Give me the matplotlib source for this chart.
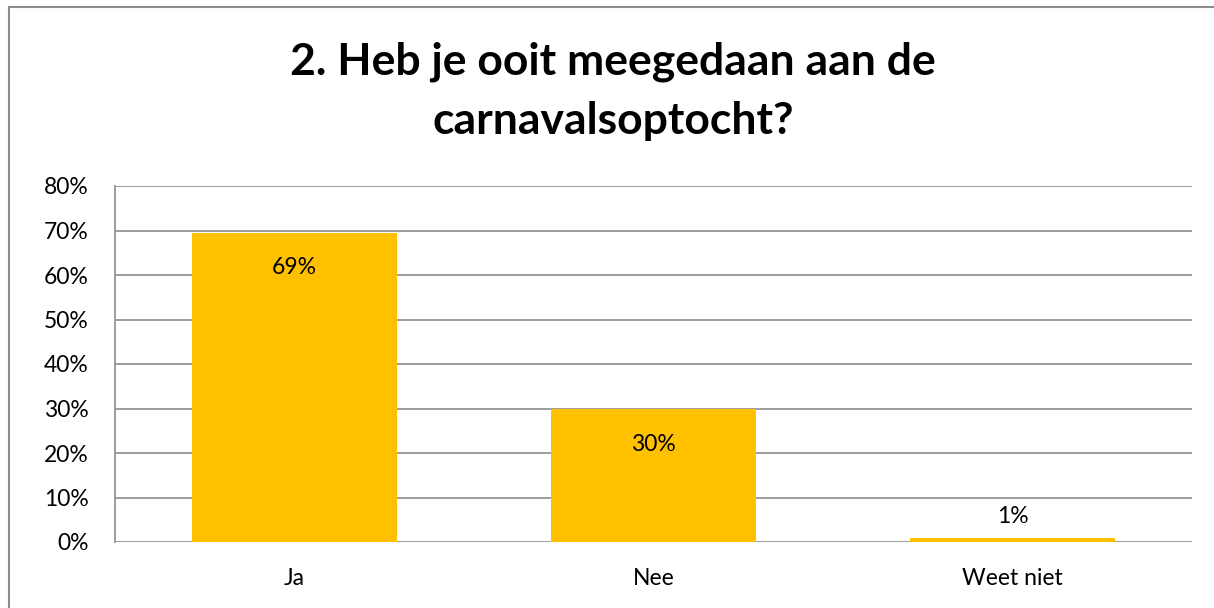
import matplotlib.pyplot as plt
from matplotlib.patches import Rectangle
from matplotlib.ticker import PercentFormatter

# chart data
categories = ['Ja', 'Nee', 'Weet niet']
shares = [0.694, 0.298, 0.008]
share_labels = ['69%', '30%', '1%']
y_ticks = [0, 0.1, 0.2, 0.3, 0.4, 0.5, 0.6, 0.7, 0.8]
title = '2. Heb je ooit meegedaan aan de\ncarnavalsoptocht?'


def main():
    plt.rcParams['font.family'] = ['Lato', 'DejaVu Sans']

    fig = plt.figure(figsize=(12.14, 6.08), dpi=100)
    ax = fig.add_axes([115 / 1214, 66 / 608, 1077 / 1214, 356 / 608])

    grey = '#8c8c8c'
    # outer chart border (only left and top visible in the reference)
    fig.patches.append(Rectangle((9 / 1214, -0.1), 1.2, 1 - 7 / 608 + 0.1,
                                 transform=fig.transFigure, fill=False,
                                 edgecolor=grey, linewidth=1.5))

    x = range(len(categories))
    ax.bar(x, shares, width=0.571, color='#FFC000', zorder=3)

    for i, (v, lab) in enumerate(zip(shares, share_labels)):
        if v > 0.1:
            ax.annotate(lab, (i, v), xytext=(0, -25), textcoords='offset points',
                        ha='center', va='center', fontsize=16.5, zorder=4)
        else:
            ax.annotate(lab, (i, v), xytext=(0, 16), textcoords='offset points',
                        ha='center', va='center', fontsize=16.5, zorder=4)

    ax.set_xlim(-0.5, 2.5)
    ax.set_ylim(0, 0.8)
    ax.set_yticks(y_ticks)
    ax.yaxis.set_major_formatter(PercentFormatter(1.0, decimals=0))
    ax.set_xticks(list(x))
    ax.set_xticklabels(categories)
    ax.tick_params(axis='both', length=0, labelsize=16.5)
    ax.tick_params(axis='y', pad=19)
    ax.tick_params(axis='x', pad=19)
    ax.grid(axis='y', color=grey, linewidth=1.2, zorder=0)

    for side in ['top', 'right', 'bottom']:
        ax.spines[side].set_visible(False)
    ax.spines['left'].set_color(grey)
    ax.spines['left'].set_linewidth(1.2)

    fig.text(0.505, 0.85, title, ha='center', va='center', fontsize=32,
             fontweight='bold', linespacing=1.55)

    plt.savefig('out.png', dpi=100)


if __name__ == '__main__':
    main()
